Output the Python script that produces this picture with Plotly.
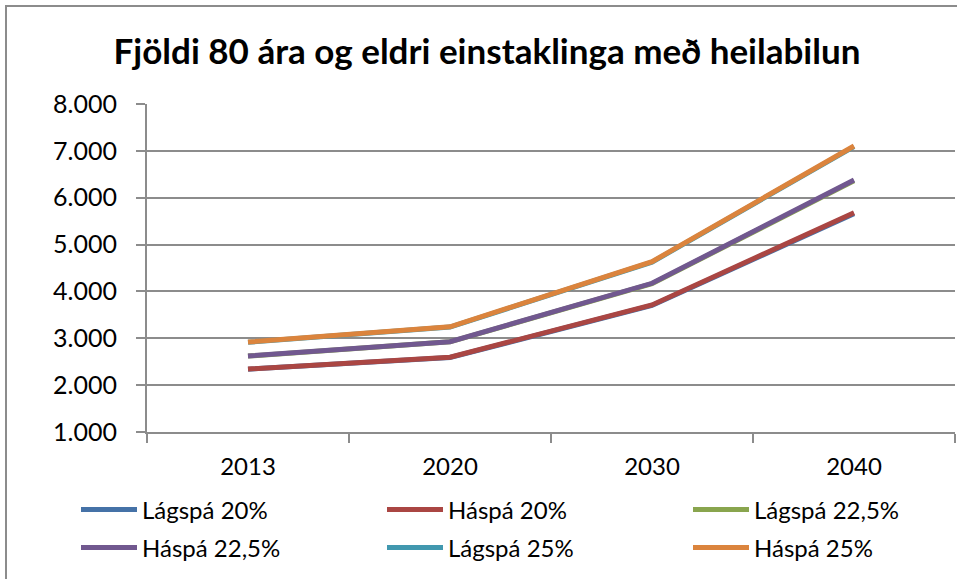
import plotly.graph_objects as go

years = ["2013", "2020", "2030", "2040"]
series_names = ["Lágspá 20%", "Háspá 20%", "Lágspá 22,5%", "Háspá 22,5%", "Lágspá 25%", "Háspá 25%"]
lagspa_20 = [2340, 2590, 3700, 5660]
haspa_20 = [2345, 2596, 3711, 5680]
lagspa_225 = [2620, 2925, 4165, 6360]
haspa_225 = [2622, 2928, 4174, 6378]
lagspa_25 = [2915, 3240, 4625, 7090]
haspa_25 = [2921, 3245, 4635, 7104]
colors = ["#4572A7", "#AA4643", "#89A54E", "#71588F", "#4198AF", "#DB843D"]

values = [lagspa_20, haspa_20, lagspa_225, haspa_225, lagspa_25, haspa_25]
y_ticks = [1000, 2000, 3000, 4000, 5000, 6000, 7000, 8000]
y_labels = ["1.000", "2.000", "3.000", "4.000", "5.000", "6.000", "7.000", "8.000"]

FONT = "Lato"
W, H = 957, 579
L, R, T, B = 147, 2, 104, 147
PW, PH = W - L - R, H - T - B

# legend slot positions (pixels): column line-starts and row centres
leg_cols_px = [82, 388, 694]
leg_rows_px = [510, 548]

fig = go.Figure()
legend_layouts = {}
for i, (name, vals, col) in enumerate(zip(series_names, values, colors)):
    key = "legend" if i == 0 else f"legend{i + 1}"
    fig.add_trace(go.Scatter(x=years, y=vals, name=name, mode="lines", legend=key,
                             line=dict(color=col, width=5)))
    cx = leg_cols_px[i % 3] - 6
    cy = leg_rows_px[i // 3]
    legend_layouts[key] = dict(x=(cx - L) / PW, y=(T + PH - cy) / PH,
                               xanchor="left", yanchor="middle", orientation="h",
                               font=dict(family=FONT, size=24, color="black"),
                               itemwidth=56, bgcolor="rgba(0,0,0,0)")

fig.update_layout(
    width=W, height=H,
    paper_bgcolor="white", plot_bgcolor="white",
    margin=dict(l=L, r=R, t=T, b=B),
    title=dict(text="<b>Fjöldi 80 ára og eldri einstaklinga með heilabilun</b>",
               x=487 / W, xref="container", xanchor="center", y=1 - 52 / H, yanchor="middle",
               font=dict(family=FONT, size=35, color="black")),
    font=dict(family=FONT, size=24, color="black"),
    showlegend=True,
    shapes=[dict(type="rect", xref="paper", yref="paper",
                 x0=(6 - L) / PW, x1=1.05, y0=-0.8, y1=(T + PH - 6) / PH,
                 line=dict(color="#8c8c8c", width=2), layer="below")],
    **legend_layouts,
)
fig.update_xaxes(type="category", showgrid=False, showline=True, linecolor="#8c8c8c", linewidth=2,
                 ticks="outside", tickson="boundaries", ticklen=9, tickcolor="#8c8c8c", tickwidth=2,
                 range=[-0.5, 3.5], ticklabelstandoff=12,
                 tickfont=dict(family=FONT, size=24, color="black"))
fig.update_yaxes(range=[1000, 8000], tickvals=y_ticks, ticktext=y_labels, showgrid=True,
                 gridcolor="#8c8c8c", gridwidth=2, showline=True, linecolor="#8c8c8c", linewidth=2,
                 ticks="outside", ticklen=9, tickcolor="#8c8c8c", tickwidth=2, zeroline=False,
                 ticklabelstandoff=14,
                 tickfont=dict(family=FONT, size=25, color="black"))

fig.write_html("out.html", config={"displayModeBar": False},
               post_script="document.body.style.margin='0';document.body.style.overflow='hidden';")
